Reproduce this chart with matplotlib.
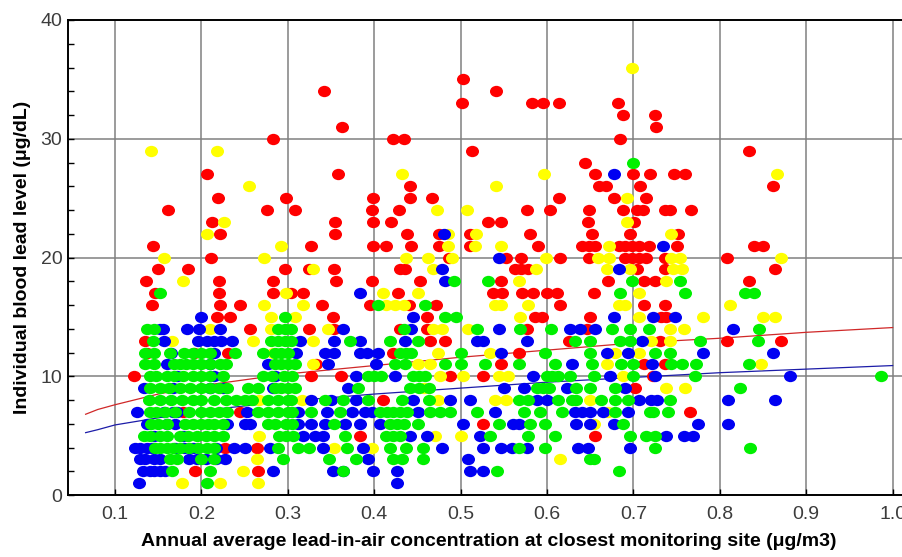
import numpy as np
import matplotlib
matplotlib.use("Agg")
import matplotlib.pyplot as plt
from matplotlib.path import Path
from matplotlib.ticker import MultipleLocator

plt.rcParams['font.family'] = ['Liberation Sans', 'DejaVu Sans']

# Individual blood lead (ug/dL) vs. site lead-in-air (ug/m3), one list per group
red_points = [
    (0.503, 35), (0.541, 34), (0.342, 34), (0.502, 33), (0.583, 33), (0.595, 33), (0.614, 33),
    (0.682, 33), (0.688, 32), (0.725, 32), (0.726, 31), (0.363, 31), (0.283, 30), (0.422, 30),
    (0.434, 30), (0.684, 30), (0.513, 29), (0.834, 29), (0.644, 28),
    (0.207, 27), (0.358, 27), (0.655, 27), (0.700, 27), (0.719, 27), (0.747, 27), (0.760, 27),
    (0.441, 26), (0.660, 26), (0.668, 26), (0.708, 26), (0.861, 26),
    (0.219, 25), (0.298, 25), (0.441, 25), (0.467, 25), (0.399, 25), (0.614, 25), (0.678, 25), (0.715, 25),
    (0.161, 24), (0.276, 24), (0.308, 24), (0.398, 24), (0.429, 24), (0.577, 24), (0.604, 24),
    (0.649, 24), (0.688, 24), (0.704, 24), (0.711, 24), (0.737, 24), (0.742, 24), (0.767, 24),
    (0.212, 23), (0.355, 23), (0.399, 23), (0.419, 23), (0.532, 23), (0.547, 23), (0.648, 23),
    (0.701, 23), (0.221, 22), (0.355, 22), (0.438, 22), (0.475, 22), (0.511, 22), (0.580, 22),
    (0.652, 22), (0.696, 22), (0.752, 22),
    (0.144, 21), (0.327, 21), (0.399, 21), (0.414, 21), (0.443, 21), (0.475, 21), (0.511, 21),
    (0.589, 21), (0.640, 21), (0.649, 21), (0.656, 21), (0.683, 21), (0.690, 21), (0.698, 21),
    (0.706, 21), (0.718, 21), (0.750, 21), (0.839, 21), (0.850, 21),
    (0.211, 20), (0.487, 20), (0.552, 20), (0.570, 20), (0.615, 20), (0.649, 20), (0.690, 20),
    (0.698, 20), (0.707, 20), (0.714, 20), (0.736, 20), (0.808, 20),
    (0.150, 19), (0.184, 19), (0.297, 19), (0.325, 19), (0.354, 19), (0.430, 19), (0.436, 19),
    (0.563, 19), (0.570, 19), (0.578, 19), (0.704, 19), (0.736, 19), (0.864, 19),
    (0.136, 18), (0.220, 18), (0.283, 18), (0.356, 18), (0.397, 18), (0.453, 18), (0.547, 18),
    (0.671, 18), (0.712, 18), (0.725, 18), (0.834, 18),
    (0.146, 17), (0.220, 17), (0.283, 17), (0.304, 17), (0.318, 17), (0.428, 17), (0.538, 17),
    (0.548, 17), (0.571, 17), (0.584, 17), (0.600, 17), (0.611, 17), (0.654, 17),
    (0.143, 16), (0.221, 16), (0.245, 16), (0.340, 16), (0.395, 16), (0.440, 16), (0.472, 16),
    (0.615, 16), (0.712, 16), (0.736, 16),
    (0.218, 15), (0.233, 15), (0.352, 15), (0.461, 15), (0.586, 15), (0.594, 15), (0.650, 15),
    (0.732, 15), (0.738, 15),
    (0.256, 14), (0.325, 14), (0.354, 14), (0.430, 14), (0.461, 14), (0.577, 14), (0.646, 14),
    (0.135, 13), (0.465, 13), (0.482, 13), (0.625, 13), (0.731, 13), (0.808, 13), (0.871, 13),
    (0.137, 12), (0.192, 12), (0.231, 12), (0.422, 12), (0.567, 12),
    (0.333, 11), (0.547, 11), (0.712, 11), (0.736, 11),
    (0.122, 10), (0.327, 10), (0.362, 10), (0.488, 10), (0.526, 10), (0.723, 10),
    (0.702, 9), (0.410, 8),
    (0.179, 7), (0.245, 7), (0.765, 7),
    (0.526, 6), (0.384, 5), (0.656, 5),
    (0.227, 4), (0.264, 4), (0.193, 2), (0.265, 2),
]

yellow_points = [
    (0.698, 36), (0.142, 29), (0.218, 29), (0.432, 27), (0.597, 27), (0.866, 27),
    (0.255, 26), (0.541, 26), (0.693, 25), (0.473, 24), (0.507, 24), (0.226, 23), (0.693, 23),
    (0.206, 22), (0.485, 22), (0.518, 22), (0.743, 22),
    (0.292, 21), (0.485, 21), (0.517, 21), (0.547, 21), (0.672, 21),
    (0.157, 20), (0.272, 20), (0.437, 20), (0.462, 20), (0.490, 20), (0.599, 20), (0.659, 20),
    (0.672, 20), (0.744, 20), (0.754, 20), (0.871, 20),
    (0.329, 19), (0.468, 19), (0.587, 19), (0.669, 19), (0.696, 19), (0.746, 19), (0.756, 19),
    (0.179, 18), (0.567, 18), (0.738, 18),
    (0.298, 17), (0.410, 17), (0.451, 17), (0.706, 17),
    (0.273, 16), (0.318, 16), (0.414, 16), (0.424, 16), (0.434, 16), (0.540, 16), (0.547, 16),
    (0.578, 16), (0.683, 16), (0.690, 16), (0.812, 16),
    (0.281, 15), (0.308, 15), (0.569, 15), (0.706, 15), (0.781, 15), (0.850, 15), (0.864, 15),
    (0.210, 14), (0.280, 14), (0.347, 14), (0.468, 14), (0.478, 14), (0.509, 14), (0.742, 14),
    (0.758, 14),
    (0.166, 13), (0.260, 13), (0.329, 13), (0.720, 13), (0.742, 13),
    (0.283, 12), (0.474, 12), (0.534, 12), (0.679, 12), (0.706, 12),
    (0.329, 11), (0.451, 11), (0.465, 11), (0.669, 11), (0.848, 11),
    (0.476, 10), (0.503, 10), (0.544, 10), (0.555, 10), (0.688, 10),
    (0.458, 9), (0.738, 9), (0.760, 9),
    (0.267, 8), (0.316, 8), (0.474, 8), (0.540, 8), (0.553, 8), (0.650, 8),
    (0.671, 7), (0.654, 6),
    (0.267, 5), (0.470, 5), (0.500, 5),
    (0.354, 4), (0.397, 4), (0.264, 3), (0.615, 3), (0.248, 2),
    (0.177, 1), (0.222, 1), (0.265, 1),
]

blue_points = [
    (0.678, 27), (0.481, 22), (0.734, 21), (0.544, 20), (0.479, 19), (0.683, 19), (0.482, 18),
    (0.384, 17),
    (0.200, 15), (0.445, 15), (0.678, 15), (0.723, 15), (0.748, 15),
    (0.152, 14), (0.156, 14), (0.183, 14), (0.197, 14), (0.222, 14), (0.364, 14), (0.443, 14),
    (0.544, 14), (0.627, 14), (0.638, 14), (0.656, 14), (0.815, 14),
    (0.157, 13), (0.196, 13), (0.206, 13), (0.214, 13), (0.223, 13), (0.235, 13), (0.314, 13),
    (0.354, 13), (0.384, 13), (0.436, 13), (0.519, 13), (0.526, 13), (0.577, 13), (0.710, 13),
    (0.165, 12), (0.215, 12), (0.310, 12), (0.343, 12), (0.354, 12), (0.383, 12), (0.392, 12),
    (0.404, 12), (0.547, 12), (0.669, 12), (0.694, 12), (0.781, 12), (0.862, 12),
    (0.160, 11), (0.210, 11), (0.277, 11), (0.347, 11), (0.402, 11), (0.629, 11), (0.721, 11),
    (0.172, 10), (0.214, 10), (0.285, 10), (0.379, 10), (0.424, 10), (0.584, 10), (0.673, 10),
    (0.725, 10), (0.881, 10),
    (0.133, 9), (0.167, 9), (0.210, 9), (0.225, 9), (0.283, 9), (0.370, 9), (0.550, 9),
    (0.573, 9), (0.623, 9), (0.690, 9),
    (0.327, 8), (0.350, 8), (0.379, 8), (0.445, 8), (0.488, 8), (0.511, 8), (0.588, 8),
    (0.600, 8), (0.706, 8), (0.720, 8), (0.727, 8), (0.809, 8), (0.864, 8),
    (0.125, 7), (0.157, 7), (0.167, 7), (0.172, 7), (0.253, 7), (0.312, 7), (0.345, 7),
    (0.374, 7), (0.389, 7), (0.397, 7), (0.451, 7), (0.540, 7), (0.632, 7), (0.641, 7),
    (0.650, 7), (0.665, 7), (0.694, 7),
    (0.137, 6), (0.160, 6), (0.170, 6), (0.230, 6), (0.250, 6), (0.256, 6), (0.312, 6),
    (0.327, 6), (0.343, 6), (0.366, 6), (0.383, 6), (0.407, 6), (0.503, 6), (0.561, 6),
    (0.567, 6), (0.634, 6), (0.650, 6), (0.677, 6), (0.775, 6), (0.810, 6),
    (0.145, 5), (0.179, 5), (0.318, 5), (0.331, 5), (0.341, 5), (0.441, 5), (0.461, 5),
    (0.522, 5), (0.738, 5), (0.758, 5), (0.769, 5),
    (0.123, 4), (0.129, 4), (0.137, 4), (0.143, 4), (0.170, 4), (0.180, 4), (0.190, 4),
    (0.217, 4), (0.238, 4), (0.250, 4), (0.279, 4), (0.341, 4), (0.387, 4), (0.478, 4),
    (0.526, 4), (0.547, 4), (0.559, 4), (0.577, 4), (0.636, 4), (0.648, 4), (0.696, 4),
    (0.129, 3), (0.135, 3), (0.145, 3), (0.152, 3), (0.186, 3), (0.195, 3), (0.205, 3),
    (0.217, 3), (0.227, 3), (0.393, 3), (0.509, 3),
    (0.132, 2), (0.140, 2), (0.145, 2), (0.152, 2), (0.158, 2), (0.283, 2), (0.352, 2),
    (0.364, 2), (0.399, 2), (0.426, 2), (0.511, 2), (0.526, 2),
    (0.128, 1), (0.426, 1),
]

green_points = [
    (0.700, 28), (0.492, 18), (0.532, 18), (0.698, 18), (0.754, 18),
    (0.152, 17), (0.684, 17), (0.760, 17), (0.829, 17), (0.840, 17),
    (0.404, 16), (0.459, 16), (0.297, 15), (0.482, 15), (0.495, 15),
    (0.137, 14), (0.145, 14), (0.289, 14), (0.297, 14), (0.304, 14), (0.434, 14), (0.519, 14),
    (0.569, 14), (0.605, 14), (0.675, 14), (0.696, 14), (0.718, 14), (0.845, 14),
    (0.144, 13), (0.281, 13), (0.289, 13), (0.297, 13), (0.304, 13), (0.372, 13), (0.418, 13),
    (0.451, 13), (0.632, 13), (0.650, 13), (0.684, 13), (0.696, 13), (0.777, 13), (0.844, 13),
    (0.135, 12), (0.145, 12), (0.164, 12), (0.180, 12), (0.190, 12), (0.200, 12), (0.210, 12),
    (0.239, 12), (0.271, 12), (0.285, 12), (0.292, 12), (0.300, 12),
    (0.430, 12), (0.437, 12), (0.443, 12), (0.500, 12), (0.598, 12), (0.650, 12), (0.725, 12),
    (0.742, 12),
    (0.135, 11), (0.145, 11), (0.168, 11), (0.175, 11), (0.182, 11), (0.190, 11), (0.200, 11),
    (0.210, 11), (0.221, 11), (0.229, 11), (0.285, 11), (0.292, 11), (0.300, 11), (0.308, 11),
    (0.424, 11), (0.436, 11), (0.482, 11), (0.500, 11), (0.528, 11), (0.567, 11), (0.609, 11),
    (0.652, 11), (0.686, 11), (0.700, 11), (0.744, 11), (0.756, 11), (0.773, 11), (0.834, 11),
    (0.140, 10), (0.148, 10), (0.160, 10), (0.168, 10), (0.179, 10), (0.190, 10), (0.200, 10),
    (0.210, 10), (0.225, 10), (0.271, 10), (0.282, 10), (0.296, 10), (0.305, 10), (0.393, 10),
    (0.400, 10), (0.408, 10), (0.445, 10),
    (0.452, 10), (0.459, 10), (0.600, 10), (0.606, 10), (0.613, 10), (0.627, 10), (0.654, 10),
    (0.700, 10), (0.771, 10), (0.986, 10),
    (0.140, 9), (0.152, 9), (0.163, 9), (0.175, 9), (0.187, 9), (0.200, 9), (0.210, 9),
    (0.220, 9), (0.230, 9), (0.254, 9), (0.265, 9), (0.285, 9), (0.292, 9), (0.300, 9),
    (0.308, 9), (0.381, 9), (0.441, 9), (0.452, 9), (0.463, 9),
    (0.588, 9), (0.595, 9), (0.602, 9), (0.634, 9), (0.650, 9), (0.679, 9), (0.823, 9),
    (0.139, 8), (0.152, 8), (0.165, 8), (0.178, 8), (0.190, 8), (0.200, 8), (0.215, 8),
    (0.228, 8), (0.240, 8), (0.250, 8), (0.258, 8), (0.277, 8), (0.289, 8), (0.300, 8),
    (0.304, 8), (0.343, 8), (0.364, 8), (0.393, 8), (0.432, 8), (0.463, 8), (0.567, 8),
    (0.578, 8), (0.613, 8), (0.629, 8), (0.634, 8), (0.663, 8), (0.679, 8), (0.694, 8),
    (0.742, 8),
    (0.140, 7), (0.148, 7), (0.158, 7), (0.170, 7), (0.186, 7), (0.200, 7), (0.210, 7),
    (0.220, 7), (0.230, 7), (0.265, 7),
    (0.277, 7), (0.289, 7), (0.300, 7), (0.305, 7), (0.327, 7), (0.360, 7), (0.407, 7),
    (0.415, 7), (0.422, 7), (0.430, 7), (0.438, 7), (0.465, 7), (0.476, 7), (0.488, 7),
    (0.519, 7), (0.573, 7), (0.592, 7), (0.617, 7), (0.679, 7), (0.719, 7), (0.723, 7),
    (0.740, 7),
    (0.142, 6), (0.150, 6), (0.160, 6), (0.181, 6), (0.190, 6), (0.200, 6), (0.208, 6),
    (0.215, 6), (0.225, 6), (0.277, 6), (0.285, 6), (0.298, 6), (0.305, 6),
    (0.354, 6), (0.418, 6), (0.426, 6), (0.434, 6), (0.451, 6), (0.544, 6), (0.580, 6),
    (0.598, 6), (0.688, 6),
    (0.133, 5), (0.140, 5), (0.152, 5), (0.160, 5), (0.175, 5), (0.185, 5), (0.195, 5),
    (0.205, 5), (0.215, 5), (0.225, 5),
    (0.290, 5), (0.298, 5), (0.306, 5), (0.366, 5), (0.414, 5), (0.422, 5), (0.430, 5),
    (0.534, 5), (0.578, 5), (0.609, 5), (0.696, 5), (0.715, 5), (0.725, 5),
    (0.146, 4), (0.152, 4), (0.160, 4), (0.167, 4), (0.175, 4), (0.186, 4), (0.196, 4),
    (0.206, 4), (0.215, 4), (0.289, 4), (0.312, 4), (0.325, 4), (0.368, 4), (0.418, 4),
    (0.437, 4), (0.457, 4), (0.567, 4), (0.598, 4), (0.725, 4), (0.835, 4),
    (0.164, 3), (0.172, 3), (0.200, 3), (0.215, 3), (0.294, 3), (0.348, 3), (0.379, 3),
    (0.422, 3), (0.432, 3), (0.457, 3), (0.650, 3), (0.654, 3),
    (0.166, 2), (0.210, 2), (0.364, 2), (0.542, 2), (0.683, 2),
    (0.206, 1),
]

# fitted trend lines, read at a few x positions
fit_x = [0.066, 0.08, 0.1, 0.15, 0.2, 0.3, 0.4, 0.5, 0.6, 0.7, 0.8, 0.9, 1.0]
red_fit_y = [6.8, 7.2, 7.6, 8.5, 9.2, 10.2, 10.9, 11.6, 12.2, 12.8, 13.2, 13.7, 14.1]
blue_fit_y = [5.25, 5.5, 5.9, 6.5, 7.1, 7.9, 8.5, 9.0, 9.5, 9.9, 10.3, 10.6, 10.9]

groups = [
    (red_points, '#ff0000'),
    (yellow_points, '#ffff00'),
    (blue_points, '#0000f2'),
    (green_points, '#00f000'),
]

# slightly flattened dot
circle = Path.unit_circle()
dot = Path(circle.vertices * [1.0, 0.87], circle.codes)

fig = plt.figure(figsize=(9.02, 5.57), dpi=100)
ax = fig.add_axes([68 / 902, 62 / 557, 842 / 902, 475 / 557])

ax.plot(fit_x, red_fit_y, color='#d02828', lw=0.9, zorder=2)
ax.plot(fit_x, blue_fit_y, color='#1c1ca8', lw=0.9, zorder=2)

for i, (pts, col) in enumerate(groups):
    arr = np.array(pts, dtype=float)
    ax.scatter(arr[:, 0], arr[:, 1], s=88, marker=dot, color=col,
               linewidths=0, zorder=3 + i)

ax.set_xlim(0.0456, 1.0201)
ax.set_ylim(0, 40)
ax.set_xticks(np.arange(0.1, 1.01, 0.1))
ax.set_xticklabels(['0.1', '0.2', '0.3', '0.4', '0.5', '0.6', '0.7', '0.8', '0.9', '1.0'])
ax.set_yticks([0, 10, 20, 30, 40])
ax.yaxis.set_minor_locator(MultipleLocator(2))

ax.grid(True, which='major', color='#808080', lw=1.1)
ax.set_axisbelow(True)
ax.tick_params(axis='both', which='major', direction='in', length=4, width=1,
               labelsize=14, labelcolor='#3c3c3c')
ax.tick_params(axis='x', pad=8)
ax.tick_params(axis='y', which='minor', direction='in', length=4, width=1)
ax.tick_params(axis='y', pad=4)

for side in ['left', 'bottom', 'top']:
    ax.spines[side].set_color('black')
    ax.spines[side].set_linewidth(1.4)
ax.spines['right'].set_visible(False)

ax.set_xlabel('Annual average lead-in-air concentration at closest monitoring site (\u03bcg/m3)',
              fontsize=14, fontweight='bold', labelpad=7)
ax.set_ylabel('Individual blood lead level (\u03bcg/dL)', fontsize=14,
              fontweight='bold', labelpad=7)

fig.savefig('out.png', dpi=100)
